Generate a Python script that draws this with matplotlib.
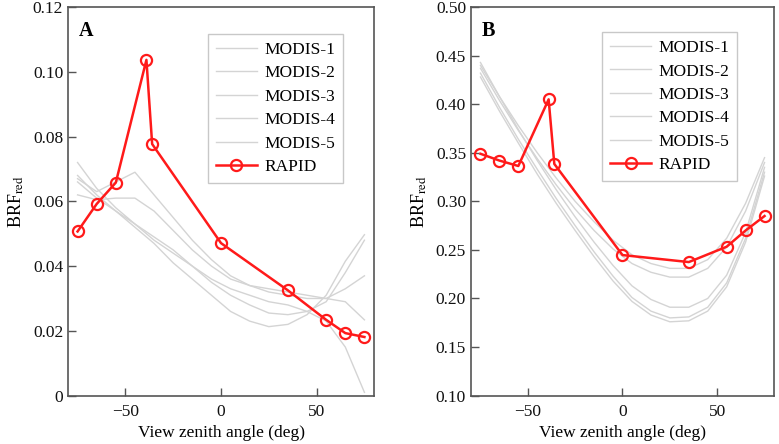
import matplotlib
matplotlib.use("Agg")
import matplotlib.pyplot as plt
import numpy as np

plt.rcParams['font.family'] = ['Liberation Serif', 'DejaVu Serif']
plt.rcParams['mathtext.fontset'] = 'stix'

# ---------------- data ----------------
angles_modis = [-75, -65, -55, -45, -35, -25, -15, -5, 5, 15, 25, 35, 45, 55, 65, 75]
angles_rapid = [-75, -65, -55, -39, -36, 0, 35, 55, 65, 75]

modis_labels = ["MODIS-1", "MODIS-2", "MODIS-3", "MODIS-4", "MODIS-5"]

# Panel A
a_modis1 = [0.067, 0.063, 0.066, 0.069, 0.062, 0.055, 0.048, 0.042, 0.037, 0.034, 0.032, 0.031, 0.030, 0.030, 0.033, 0.037]
a_modis2 = [0.062, 0.0605, 0.061, 0.061, 0.057, 0.051, 0.045, 0.040, 0.036, 0.034, 0.033, 0.032, 0.031, 0.030, 0.029, 0.0234]
a_modis3 = [0.072, 0.064, 0.058, 0.053, 0.048, 0.044, 0.040, 0.036, 0.033, 0.031, 0.029, 0.028, 0.026, 0.023, 0.015, 0.001]
a_modis4 = [0.068, 0.062, 0.057, 0.052, 0.047, 0.041, 0.036, 0.031, 0.026, 0.023, 0.0213, 0.022, 0.025, 0.031, 0.0415, 0.0497]
a_modis5 = [0.066, 0.061, 0.057, 0.053, 0.049, 0.045, 0.040, 0.035, 0.031, 0.028, 0.0255, 0.025, 0.026, 0.029, 0.038, 0.048]
a_rapid = [0.0507, 0.0592, 0.0658, 0.1037, 0.0777, 0.0471, 0.0325, 0.0234, 0.0193, 0.0181]

# Panel B
b_modis1 = [0.440, 0.408, 0.378, 0.350, 0.324, 0.300, 0.279, 0.260, 0.245, 0.236, 0.231, 0.231, 0.240, 0.262, 0.298, 0.345]
b_modis2 = [0.437, 0.404, 0.373, 0.344, 0.317, 0.292, 0.270, 0.251, 0.236, 0.227, 0.222, 0.222, 0.231, 0.253, 0.290, 0.340]
b_modis3 = [0.443, 0.408, 0.374, 0.342, 0.312, 0.284, 0.258, 0.234, 0.213, 0.199, 0.191, 0.191, 0.200, 0.224, 0.268, 0.335]
b_modis4 = [0.432, 0.397, 0.364, 0.333, 0.303, 0.275, 0.248, 0.223, 0.201, 0.187, 0.180, 0.181, 0.191, 0.216, 0.262, 0.330]
b_modis5 = [0.428, 0.393, 0.360, 0.328, 0.298, 0.270, 0.243, 0.218, 0.197, 0.183, 0.176, 0.177, 0.187, 0.212, 0.258, 0.326]
b_rapid = [0.349, 0.342, 0.3364, 0.405, 0.3385, 0.2447, 0.2375, 0.2533, 0.270, 0.2849]

a_yticks = [0, 0.02, 0.04, 0.06, 0.08, 0.10, 0.12]
a_yticklabels = ["0", "0.02", "0.04", "0.06", "0.08", "0.10", "0.12"]
b_yticks = [0.10, 0.15, 0.20, 0.25, 0.30, 0.35, 0.40, 0.45, 0.50]
b_yticklabels = ["0.10", "0.15", "0.20", "0.25", "0.30", "0.35", "0.40", "0.45", "0.50"]
xticks = [-50, 0, 50]

# ---------------- plot ----------------
fig = plt.figure(figsize=(7.79, 4.44), dpi=100)
axA = fig.add_axes([0.0873, 0.109, 0.3928, 0.875])
axB = fig.add_axes([0.6046, 0.109, 0.389, 0.875])

grey = '#d4d4d4'
red = '#ff1a1a'

def draw(ax, modis, rapid, yticks, yticklabels, ylim, letter, leg_anchor):
    for lab, vals in zip(modis_labels, modis):
        ax.plot(angles_modis, vals, color=grey, lw=1.0, label=lab)
    ax.plot(angles_rapid, rapid, color=red, lw=1.8, marker='o', ms=8,
            mfc='none', mec=red, mew=1.6, label='RAPID')
    ax.set_xlim(-80, 80)
    ax.set_ylim(*ylim)
    ax.set_xticks(xticks)
    ax.set_xticklabels([str(t).replace('-', '\u2212') for t in xticks])
    ax.set_yticks(yticks)
    ax.set_yticklabels(yticklabels)
    ax.tick_params(direction='in', length=6, width=1, labelsize=12.5,
                   color='#555555', labelcolor='#111111')
    ax.tick_params(axis='x', pad=6)
    for s in ax.spines.values():
        s.set_color('#555555')
        s.set_linewidth(1.2)
    ax.set_xlabel('View zenith angle (deg)', fontsize=12.5, labelpad=4)
    ax.set_ylabel(r'BRF$_{\rm red}$', fontsize=13, labelpad=5)
    ax.text(0.035, 0.965, letter, transform=ax.transAxes, fontsize=14.5,
            fontweight='bold', va='top', ha='left')
    leg = ax.legend(loc='upper left', bbox_to_anchor=leg_anchor, borderaxespad=0,
                    fontsize=12.5, frameon=True, fancybox=False, handlelength=2.4,
                    handletextpad=0.4, labelspacing=0.42, borderpad=0.45)
    leg.get_frame().set_edgecolor('#bbbbbb')
    leg.get_frame().set_linewidth(1.0)

draw(axA, [a_modis1, a_modis2, a_modis3, a_modis4, a_modis5], a_rapid,
     a_yticks, a_yticklabels, (0, 0.12), 'A', (0.4565, 0.931))
draw(axB, [b_modis1, b_modis2, b_modis3, b_modis4, b_modis5], b_rapid,
     b_yticks, b_yticklabels, (0.10, 0.50), 'B', (0.432, 0.9356))

fig.savefig('out.png', dpi=100)
